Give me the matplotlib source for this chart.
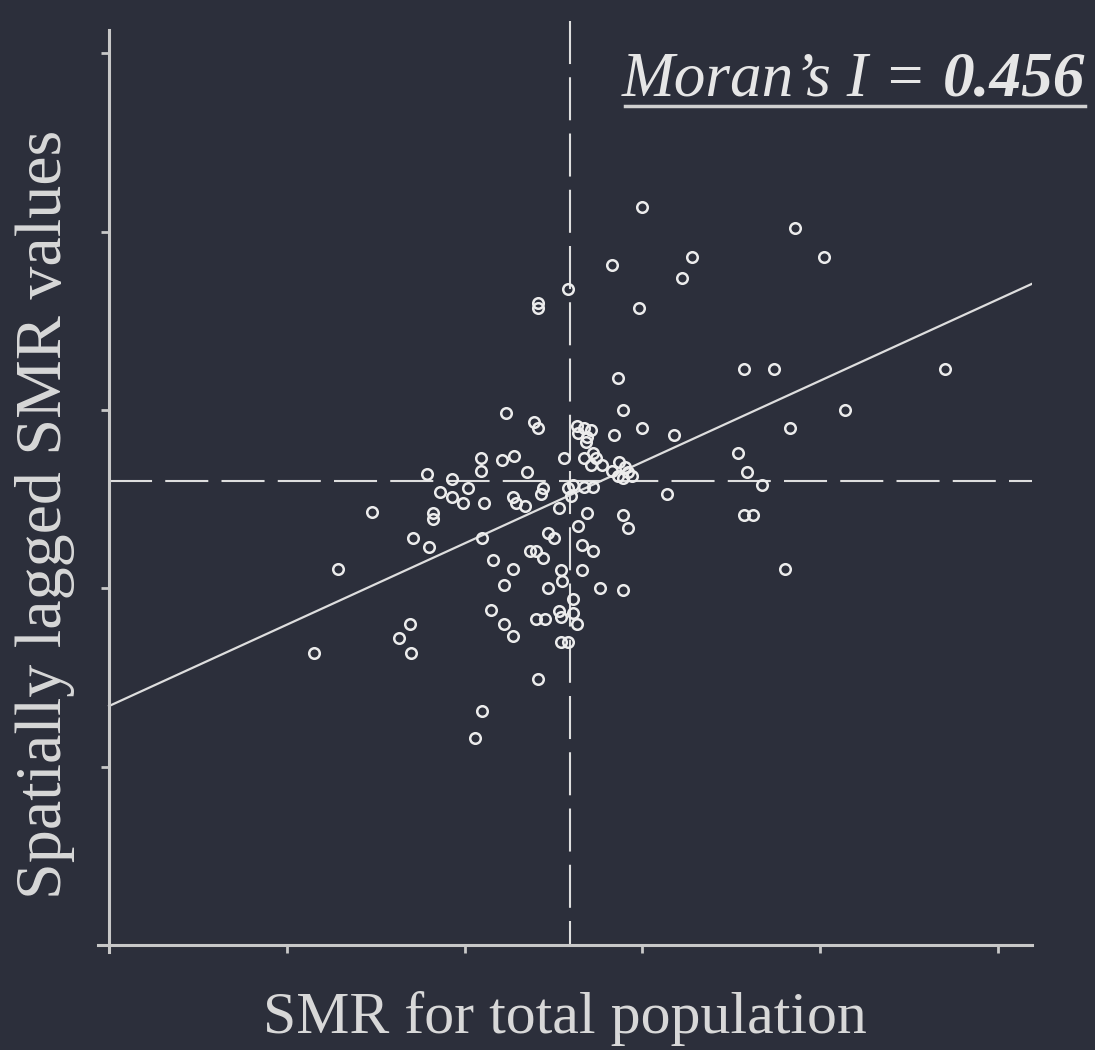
import numpy as np
import matplotlib
matplotlib.use("Agg")
import matplotlib.pyplot as plt
from matplotlib.lines import Line2D

# SMR for each area (x) and its spatially lagged SMR (y)
smr_total = [3.00, 3.86, 3.28, 4.02, 2.83, 3.22, 2.58, 2.41, 2.41, 2.98,
             3.57, 3.74, 4.70, 2.86, 2.89, 4.14, 2.23, 2.39, 2.41, 3.00,
             3.83, 2.84, 3.18, 2.63, 2.67, 2.71, 2.64, 2.69, 2.68, 3.54,
             3.59, 3.67, 2.09, 2.09, 2.21, 2.28, 2.35, 2.56, 2.67, 2.72,
             2.74, 2.71, 2.77, 2.83, 2.87, 2.90, 2.86, 2.92, 2.89, 2.94,
             1.79, 1.93, 2.02, 1.86, 1.93, 1.99, 2.11, 2.27, 2.29, 2.34,
             2.44, 2.43, 2.58, 2.60, 2.61, 2.67, 2.72, 3.14, 2.53, 1.82,
             1.82, 1.48, 2.69, 2.64, 2.89, 2.92, 3.57, 3.62, 1.71, 1.80,
             2.10, 2.47, 2.50, 2.37, 2.40, 2.44, 2.66, 2.72, 2.16, 1.29,
             2.27, 2.54, 2.55, 2.66, 3.80, 2.22, 2.47, 2.76, 2.89, 2.61,
             2.15, 2.40, 2.45, 2.53, 2.54, 2.61, 2.63, 2.22, 1.69, 1.63,
             1.70, 1.15, 2.27, 2.54, 2.58, 2.41, 2.10, 2.06]
smr_lagged = [4.14, 4.02, 3.86, 3.86, 3.81, 3.74, 3.68, 3.60, 3.57, 3.57,
              3.23, 3.23, 3.23, 3.18, 3.00, 3.00, 2.98, 2.93, 2.90, 2.90,
              2.90, 2.86, 2.86, 2.91, 2.90, 2.89, 2.87, 2.85, 2.82, 2.76,
              2.65, 2.58, 2.73, 2.66, 2.72, 2.74, 2.65, 2.73, 2.73, 2.76,
              2.73, 2.69, 2.69, 2.66, 2.71, 2.68, 2.63, 2.65, 2.62, 2.63,
              2.64, 2.61, 2.56, 2.54, 2.51, 2.48, 2.48, 2.51, 2.48, 2.46,
              2.56, 2.53, 2.56, 2.52, 2.58, 2.57, 2.57, 2.53, 2.45, 2.42,
              2.39, 2.43, 2.42, 2.35, 2.41, 2.34, 2.41, 2.41, 2.28, 2.23,
              2.28, 2.31, 2.28, 2.21, 2.21, 2.17, 2.24, 2.21, 2.16, 2.11,
              2.11, 2.10, 2.04, 2.10, 2.11, 2.02, 2.00, 2.00, 1.99, 1.94,
              1.88, 1.83, 1.83, 1.87, 1.84, 1.86, 1.80, 1.80, 1.80, 1.72,
              1.64, 1.64, 1.73, 1.70, 1.70, 1.49, 1.31, 1.16]

x_mean = 2.59
y_mean = 2.60
fit_intercept = 1.34
morans_i = 0.456

x_ticks = [0, 1, 2, 3, 4, 5]
y_ticks = [0, 1, 2, 3, 4, 5]

bg = '#2c2f3b'
fg = '#dedede'

plt.rcParams['lines.scale_dashes'] = False
plt.rcParams['font.family'] = ['Liberation Serif', 'DejaVu Serif']

fig = plt.figure(figsize=(10.95, 10.5), dpi=100, facecolor=bg)
ax = fig.add_axes([0.0895, 0.0933, 0.853, 0.878])
ax.set_facecolor(bg)
xmin, xmax = -0.062, 5.191
ymin, ymax = -0.039, 5.129
ax.set_xlim(xmin, xmax)
ax.set_ylim(ymin, ymax)

for side in ['top', 'right']:
    ax.spines[side].set_visible(False)
for side in ['left', 'bottom']:
    ax.spines[side].set_position(('data', 0))
    ax.spines[side].set_color('#c8c8c8')
    ax.spines[side].set_linewidth(2.2)

ax.set_xticks(x_ticks)
ax.set_yticks(y_ticks)
ax.tick_params(colors='#c8c8c8', length=6, width=2, direction='out',
               labelbottom=False, labelleft=False)

# mean lines
ax.plot([0, xmax], [y_mean, y_mean], color=fg, lw=1.5, dashes=(31, 9.5))
ax.plot([x_mean, x_mean], [ymax + 0.05, 0], color=fg, lw=1.5, dashes=(31, 9.5),
        clip_on=False)

# regression line
fit_x = np.array([0, xmax])
ax.plot(fit_x, fit_intercept + morans_i * fit_x, color=fg, lw=1.6)

ax.plot(smr_total, smr_lagged, 'o', ms=7.6, mfc='none', mec='#ececec', mew=1.8)

# axis titles
fig.text(0.041, 0.51, 'Spatially lagged SMR values', rotation=90,
         ha='center', va='center', fontsize=47.5, color='#d8d8d8')
fig.text(0.516, 0.016, 'SMR for total population', ha='center',
         va='baseline', fontsize=43, color='#d8d8d8')

# Moran's I annotation with underline
t2 = fig.text(0.991, 0.9095, '0.456', ha='right', va='baseline', fontsize=45.5,
              style='italic', fontweight='bold', color='#e6e6e6')
fig.canvas.draw()
r = fig.canvas.get_renderer()
W, H = fig.bbox.width, fig.bbox.height
bb2 = t2.get_window_extent(r)
t1 = fig.text(bb2.x0 / W, 0.9095, 'Moran’s I = ', ha='right', va='baseline',
              fontsize=45.5, style='italic', color='#e6e6e6')
fig.canvas.draw()
bb1 = t1.get_window_extent(r)
uy = (1050 - 106) / H
fig.add_artist(Line2D([bb1.x0 / W + 0.003, bb2.x1 / W], [uy, uy],
                      transform=fig.transFigure, color='#d0d0d0', lw=2.5))

fig.savefig('out.png', dpi=100, facecolor=bg)
